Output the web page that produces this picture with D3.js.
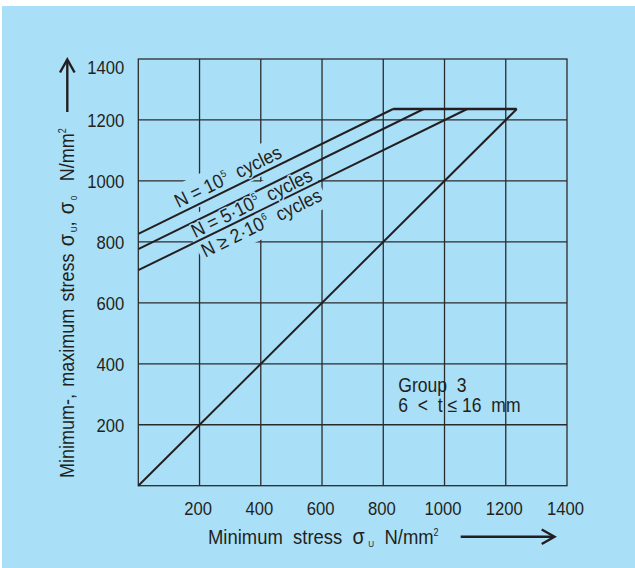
<!DOCTYPE html>
<html>
<head>
<meta charset="utf-8">
<script src="https://cdn.jsdelivr.net/npm/d3@7"></script>
<style>
  html, body { margin: 0; padding: 0; background: #ffffff; }
  svg { display: block; }
  text { font-family: "Liberation Sans", Arial, Helvetica, sans-serif; fill: #231f20; white-space: pre; }
</style>
</head>
<body>
<svg id="chart" width="635" height="568"></svg>
<script>
// ---------------- data ----------------
const xTicks = [200, 400, 600, 800, 1000, 1200, 1400];
const yTicks = [200, 400, 600, 800, 1000, 1200, 1400];
const gridValues = [200, 400, 600, 800, 1000, 1200];

// lines for each number of cycles: [min stress, max stress]
const line1e5 = [[0, 826], [832, 1236]];
const line5e5 = [[0, 776], [932, 1236]];
const line2e6 = [[0, 707], [1074, 1236]];
const plateau = [[832, 1236], [1236, 1236]];
const diagonal = [[0, 0], [1236, 1236]];

const seriesLabels = [
  { parts: [["N = 10", 0], ["5", 1], ["  cycles", 0]] },
  { parts: [["N = 5·10", 0], ["5", 1], ["  cycles", 0]] },
  { parts: [["N ≥ 2·10", 0], ["6", 1], ["  cycles", 0]] }
];
const groupLines = ["Group  3", "6  <  t ≤ 16  mm"];

// ---------------- drawing ----------------
const W = 635, H = 568;
const bg = "#aadff8";
const ink = "#231f20";
const svg = d3.select("#chart");

svg.append("rect").attr("x", 0).attr("y", 0).attr("width", W).attr("height", H).attr("fill", "#ffffff");
svg.append("rect").attr("x", 2).attr("y", 6).attr("width", W - 2).attr("height", H - 6).attr("fill", bg);

const x = d3.scaleLinear().domain([0, 1400]).range([138.3, 567]);
const y = d3.scaleLinear().domain([0, 1400]).range([485.7, 59]);

// grid
const grid = svg.append("g").attr("stroke", "#2b2b2b").attr("stroke-width", 1.3);
grid.selectAll("line.v").data(gridValues).join("line")
  .attr("x1", d => x(d)).attr("x2", d => x(d)).attr("y1", y(0)).attr("y2", y(1400));
grid.selectAll("line.h").data(gridValues).join("line")
  .attr("y1", d => y(d)).attr("y2", d => y(d)).attr("x1", x(0)).attr("x2", x(1400));
svg.append("rect").attr("x", x(0)).attr("y", y(1400))
  .attr("width", x(1400) - x(0)).attr("height", y(0) - y(1400))
  .attr("fill", "none").attr("stroke", "#2b2b2b").attr("stroke-width", 1.3);

const knockLayer = svg.append("g");
const lineLayer = svg.append("g");
const textLayer = svg.append("g");

const lineGen = d3.line().x(d => x(d[0])).y(d => y(d[1]));
[line1e5, line5e5, line2e6, diagonal].forEach(pts => {
  lineLayer.append("path").attr("d", lineGen(pts))
    .attr("fill", "none").attr("stroke", ink).attr("stroke-width", 2);
});
lineLayer.append("path").attr("d", lineGen(plateau))
  .attr("fill", "none").attr("stroke", ink).attr("stroke-width", 2.6);

// axes
const fmt = d3.format("d");
const xAxis = svg.append("g").attr("transform", `translate(0,${y(0)})`)
  .call(d3.axisBottom(x).tickValues(xTicks).tickFormat(fmt).tickSize(0).tickPadding(0));
xAxis.select(".domain").remove();
xAxis.selectAll("text")
  .attr("x", 0).attr("y", 0).attr("dy", 0)
  .attr("transform", "translate(-2,29.5) scale(0.9,1)")
  .style("font-size", "18.5px").attr("fill", ink)
  .style("font-family", "'Liberation Sans', Arial, sans-serif");

const yAxis = svg.append("g").attr("transform", `translate(${x(0)},0)`)
  .call(d3.axisLeft(y).tickValues(yTicks).tickFormat(fmt).tickSize(0).tickPadding(0));
yAxis.select(".domain").remove();
yAxis.selectAll("text")
  .attr("x", 0).attr("y", 0).attr("dy", 0)
  .attr("transform", d => `translate(-14,${d === 1400 ? 14.5 : 6.6}) scale(0.9,1)`)
  .style("font-size", "18.5px").attr("fill", ink)
  .style("font-family", "'Liberation Sans', Arial, sans-serif");

// axis titles
const xt = svg.append("text")
  .attr("transform", "translate(208,544) scale(0.9,1)")
  .style("font-size", "20.5px");
xt.append("tspan").text("Minimum  stress  ");
xt.append("tspan").text("σ").style("font-size", "22px");
xt.append("tspan").text("U").style("font-size", "9px").attr("dx", 4).attr("dy", 3);
xt.append("tspan").text("  N/mm").attr("dy", -3);
xt.append("tspan").text("2").style("font-size", "10px").attr("dy", -8);

const yt = svg.append("text")
  .attr("transform", "translate(74,478) rotate(-90) scale(0.9,1)")
  .style("font-size", "20px").style("word-spacing", "2.5px");
yt.append("tspan").text("Minimum-, maximum stress ");
yt.append("tspan").text("σ").style("font-size", "22px");
yt.append("tspan").text("U").style("font-size", "9px").attr("dx", 2).attr("dy", 3);
yt.append("tspan").text(", ").attr("dy", -3);
yt.append("tspan").text("σ").style("font-size", "22px");
yt.append("tspan").text("0").style("font-size", "9px").attr("dx", 2).attr("dy", 3);
yt.append("tspan").text("  N/mm").attr("dy", -3);
yt.append("tspan").text("2").style("font-size", "10px").attr("dy", -8);

// arrows
const arrows = svg.append("g").attr("stroke", ink).attr("stroke-width", 2.4).attr("fill", "none")
  .attr("stroke-linecap", "butt");
arrows.append("path").attr("d", "M67.3,112 L67.3,60");
arrows.append("path").attr("d", "M60,72.5 L67.3,59.5 L74.6,72.5");
arrows.append("path").attr("d", "M460.7,536.7 L554,536.7");
arrows.append("path").attr("d", "M541.7,529.5 L554.5,536.7 L541.7,544");

// series labels along the lines
const labelDefs = [
  { line: line1e5, startX: 131, off: -6 },
  { line: line5e5, startX: 186, off: 17 },
  { line: line2e6, startX: 219, off: 20.5 }
];
labelDefs.forEach((def, i) => {
  const p0 = def.line[0], p1 = def.line[1];
  const ang = Math.atan2(y(p1[1]) - y(p0[1]), x(p1[0]) - x(p0[0])) * 180 / Math.PI;
  const t = def.startX / p1[0];
  const vy = p0[1] + t * (p1[1] - p0[1]);
  const px = x(def.startX), py = y(vy) + def.off;
  const tr = `translate(${px},${py}) rotate(${ang}) scale(0.9,1)`;
  const g = textLayer.append("g").attr("transform", tr);
  const txt = g.append("text").style("font-size", "19.5px")
    .attr("stroke", bg).attr("stroke-width", 3).style("paint-order", "stroke")
    .attr("stroke-linejoin", "round");
  let sup = false;
  seriesLabels[i].parts.forEach(([s, isSup]) => {
    const ts = txt.append("tspan").text(s);
    if (isSup) { ts.style("font-size", "10px").attr("dy", -8).attr("dx", 1); sup = true; }
    else if (sup) { ts.attr("dy", 8); sup = false; }
  });
  const bb = txt.node().getBBox();
  knockLayer.append("g").attr("transform", tr).append("rect")
    .attr("x", bb.x - 4).attr("y", bb.y - 4)
    .attr("width", bb.width + 8).attr("height", bb.height + 8)
    .attr("fill", bg);
});

// group annotation
const gt = svg.append("text").attr("transform", "translate(398.3,391.7) scale(0.9,1)")
  .style("font-size", "19.5px");
gt.append("tspan").attr("x", 0).text(groupLines[0]);
gt.append("tspan").attr("x", 0).attr("dy", 20).text(groupLines[1]);
</script>
</body>
</html>
